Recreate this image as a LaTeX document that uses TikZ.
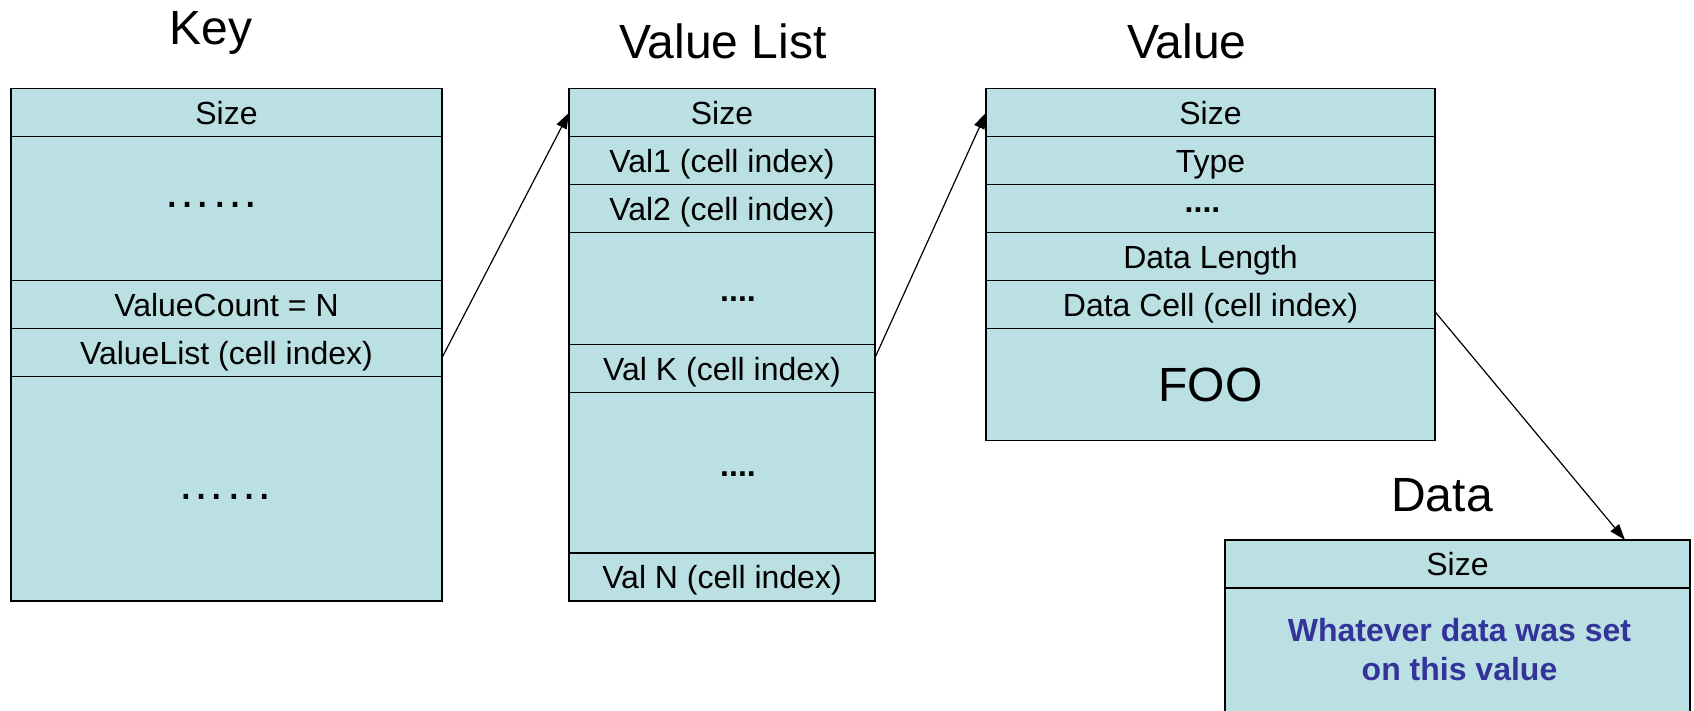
\documentclass[tikz,border=0pt]{standalone}
\usepackage{fontspec}
\setmainfont{Liberation Sans}
\usetikzlibrary{arrows.meta, positioning, calc}
\definecolor{CellFill}{RGB}{187, 224, 227}
\definecolor{DataBlue}{RGB}{51, 51, 153}

\begin{document}
\begin{tikzpicture}[
    x=0.5pt, y=-0.5pt,
    cell/.style={draw=black, line width=0.8pt, fill=CellFill, outer sep=0pt, inner sep=0pt,
        minimum height=24pt, text height=11.5pt, text depth=0pt, font=\fontsize{16}{19}\selectfont},
    keycell/.style={cell, minimum width=215.5pt},
    listcell/.style={cell, minimum width=153pt},
    valcell/.style={cell, minimum width=224.5pt},
    datacell/.style={cell, minimum width=232.5pt},
    title/.style={anchor=base, font=\fontsize{24}{29}\selectfont},
    dots/.style={anchor=base, inner sep=0pt, font=\fontsize{16}{19}\selectfont\bfseries},
    bigdots/.style={anchor=base, inner sep=0pt, font=\fontsize{24}{29}\selectfont},
    datatext/.style={inner sep=0pt, align=center, text=DataBlue, font=\fontsize{16}{19.5}\selectfont\bfseries},
    link/.style={draw=black, line width=0.6pt, -{Triangle[length=8pt, width=5.5pt]}}
]
\useasboundingbox (0,0) rectangle (1694,711);
\clip (0,0) rectangle (1694,711);

% Key
\node[title] (keyT) at (211,45) {Key};
\node[keycell, anchor=north west] (ksize) at (11,88.7) {Size};
\node[keycell, below=0pt of ksize, minimum height=72pt] (kgapA) {};
\node[keycell, below=0pt of kgapA] (kcount) {ValueCount = N};
\node[keycell, below=0pt of kcount] (kvl) {ValueList (cell index)};
\node[keycell, below=0pt of kvl, minimum height=112pt] (kgapB) {};
\node[bigdots] (kdotsA) at ($(kgapA.center)+(-15,-1)$) {……};
\node[bigdots] (kdotsB) at ($(kgapB.center)+(-1.5,11)$) {……};

% Value List
\node[title] (listT) at (723,59) {Value List};
\node[listcell, anchor=north west] (lsize) at (569,88.7) {Size};
\node[listcell, below=0pt of lsize] (l1) {Val1 (cell index)};
\node[listcell, below=0pt of l1] (l2) {Val2 (cell index)};
\node[listcell, below=0pt of l2, minimum height=56pt] (lgapA) {};
\node[listcell, below=0pt of lgapA] (lk) {Val K (cell index)};
\node[listcell, below=0pt of lk, minimum height=80pt] (lgapB) {};
\node[listcell, below=0pt of lgapB] (ln) {Val N (cell index)};
\node[dots] (ldotsA) at ($(lgapA.center)+(16,13)$) {....};
\node[dots] (ldotsB) at ($(lgapB.center)+(16,4)$) {....};

% Value
\node[title] (valT) at (1187,59) {Value};
\node[valcell, anchor=north west] (vsize) at (986,88.7) {Size};
\node[valcell, below=0pt of vsize] (vtype) {Type};
\node[valcell, below=0pt of vtype] (vgap) {};
\node[valcell, below=0pt of vgap] (vlen) {Data Length};
\node[valcell, below=0pt of vlen] (vcell) {Data Cell (cell index)};
\node[valcell, below=0pt of vcell, minimum height=56pt, text height=17.2pt,
    font=\fontsize{24}{29}\selectfont] (vfoo) {FOO};
\node[dots] (vdots) at ($(vgap.center)+(-8,3.5)$) {....};

% Data
\node[title] (dataT) at (1442,511) {Data};
\node[datacell, anchor=north west] (dsize) at (1225,540) {Size};
\node[datacell, below=0pt of dsize, minimum height=70pt] (dbody) {};
\node[datatext] (dtext) at ($(dbody.center)+(2,-8)$) {Whatever data was set\\on this value};

% Links
\draw[link] ($(kvl.east)+(0,5)$) -- (lsize.west);
\draw[link] ($(lk.east)+(0,-11)$) -- (vsize.west);
\draw[link] ($(vcell.east)+(0,7)$) -- ($(dsize.north west)+(400,0)$);

\end{tikzpicture}
\end{document}
